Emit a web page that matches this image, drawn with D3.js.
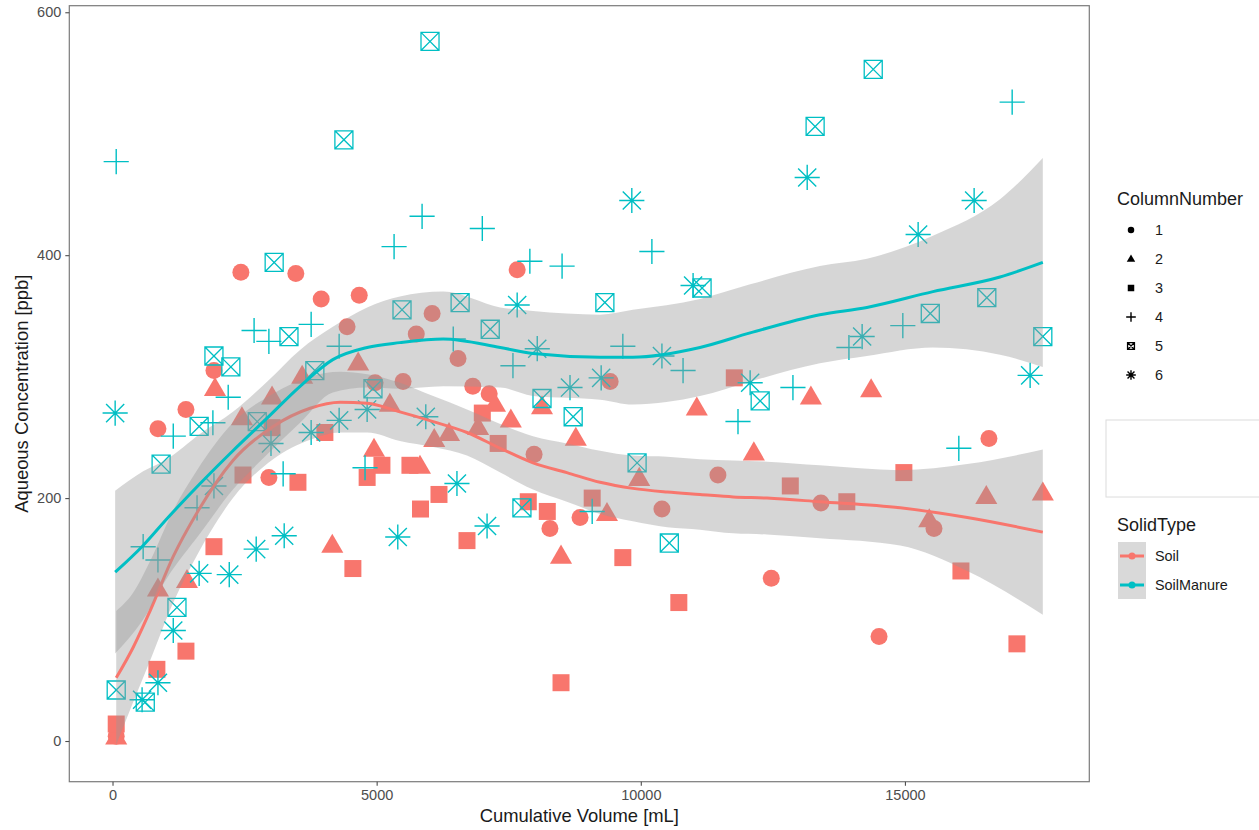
<!DOCTYPE html>
<html>
<head>
<meta charset="utf-8">
<script src="https://cdn.jsdelivr.net/npm/d3@7"></script>
<style>
  body { margin: 0; background: #fff; }
  text { font-family: "Liberation Sans", Arial, sans-serif; }
</style>
</head>
<body>
<svg id="chart" width="1259" height="830"></svg>
<script>
// Soil (ColumnNumber 1-3), [volume mL, ppb]
const soilCol1 = [[70,4],[860,257],[1390,273],[1920,305],[2430,386],[3470,385],[2960,217],[3950,364],[4440,341],[4670,367],[4970,295],[5500,296],[5750,335],[6050,352],[6540,315],[6820,292],[7130,286],[7660,388],[7980,236],[8280,175],[8850,184],[9420,296],[10400,191],[11460,219],[12470,134],[13410,196],[14510,86],[15550,175],[16590,249]];
const soilCol2 = [[70,3],[860,125],[1410,132],[1940,290],[2450,266],[3020,283],[3590,300],[4160,161],[4650,311],[4950,240],[5250,277],[5820,226],[6090,248],[6370,253],[6920,258],[7240,277],[7540,264],[8130,275],[8490,152],[8770,249],[9360,187],[9970,216],[11060,274],[12140,237],[13220,283],[14360,289],[15460,182],[16540,201],[17610,204]];
const soilCol3 = [[70,14],[840,59],[1390,74],[1920,160],[2470,219],[3020,258],[3510,213],[4020,254],[4550,142],[4820,217],[5100,227],[5630,227],[5830,191],[6180,203],[6710,165],[7000,270],[7300,245],[7870,197],[8230,189],[8490,48],[9080,200],[9660,151],[10720,114],[11770,299],[12830,210],[13900,197],[14980,221],[16060,140],[17120,80]];
// SoilManure (ColumnNumber 4-6)
const manureCol4 = [[70,477],[580,160],[860,149],[1150,251],[1600,192],[1900,262],[2190,283],[2680,338],[2960,329],[3230,220],[3760,343],[4290,325],[4780,225],[5330,407],[5860,432],[6450,331],[7000,422],[7580,309],[7900,395],[8510,391],[9080,189],[9660,325],[10210,403],[10800,305],[11840,263],[12880,291],[13940,324],[14960,342],[16020,241],[17030,526]];
const manureCol5 = [[70,42],[620,32],[920,228],[1220,110],[1640,259],[1920,317],[2240,308],[2740,263],[3060,394],[3340,333],[3830,305],[4380,495],[4930,290],[5480,355],[6010,576],[6580,361],[7150,339],[7750,192],[8130,282],[8720,267],[9320,361],[9930,229],[10540,163],[11160,373],[12260,280],[13300,506],[14400,553],[15480,352],[16550,365],[17610,333]];
const manureCol6 = [[50,270],[560,34],[860,48],[1150,91],[1640,138],[1920,210],[2210,137],[2720,158],[3000,245],[3250,169],[3760,254],[4290,264],[4820,273],[5400,168],[5930,267],[6520,212],[7090,177],[7660,359],[8040,323],[8660,291],[9250,299],[9830,445],[10400,317],[10990,375],[12070,295],[13150,464],[14190,333],[15250,417],[16310,445],[17370,301]];

// loess smooth
const soilSmoothX  = [70,390,710,1150,1600,2280,3040,3740,4310,4820,5440,6070,6710,7340,7960,8600,9230,9850,10500,11120,11750,12390,13390,14910,16180,17610];
const soilSmoothY  = [52,77,107,152,188,231,259,274,279,278,271,263,254,241,229,221,213,208,205,203,201,200,197,192,184,172];
const soilSmoothLo = [-3,32,66,114,153,200,232,248,254,254,247,242,235,221,207,197,187,181,176,174,171,170,167,161,140,104];
const soilSmoothHi = [107,122,148,190,223,262,286,300,304,302,295,284,273,261,251,245,239,235,234,232,231,230,227,223,228,240];
const manureSmoothX  = [50,580,1030,1660,2280,2930,3550,4170,4820,5440,6260,7340,7960,9230,9850,11120,12070,13390,14280,15530,16800,17610];
const manureSmoothY  = [139,161,183,212,239,266,292,314,324,328,331,324,319,316,316,324,336,351,357,370,382,394];
const manureSmoothLo = [72,100,134,171,207,236,262,287,291,290,292,291,284,281,277,284,296,311,317,324,318,308];
const manureSmoothHi = [206,222,232,253,271,296,322,341,357,366,370,357,354,351,355,364,376,391,397,416,446,480];

const xTicks = [0, 5000, 10000, 15000];
const yTicks = [0, 200, 400, 600];
const columnLabels = ["1", "2", "3", "4", "5", "6"];
const solidTypes = ["Soil", "SoilManure"];
const colors = { Soil: "#F8766D", SoilManure: "#00BFC4" };

const svg = d3.select("#chart");
const margin = { top: 5.7, right: 169.7, bottom: 48.3, left: 69.3 };
const W = 1259, H = 830;

const x = d3.scaleLinear().domain([-818, 18490]).range([margin.left, W - margin.right]);
const y = d3.scaleLinear().domain([-33.5, 605.4]).range([H - margin.bottom, margin.top]);

// shape path builders (centred at 0,0)
function shapePath(shape, s) {
  const p = d3.path();
  if (shape === 1) { p.arc(0, 0, s * 0.5, 0, 2 * Math.PI); }
  else if (shape === 2) {
    const w = s * 1.3, h = s * 1.12;
    p.moveTo(0, -h * 0.62); p.lineTo(w / 2, h * 0.38); p.lineTo(-w / 2, h * 0.38); p.closePath();
  }
  else if (shape === 3) { p.rect(-s / 2, -s / 2, s, s); }
  else if (shape === 4) {
    const a = s * 0.74;
    p.moveTo(-a, 0); p.lineTo(a, 0); p.moveTo(0, -a); p.lineTo(0, a);
  }
  else if (shape === 5) {
    const a = s * 0.53;
    p.rect(-a, -a, 2 * a, 2 * a);
    p.moveTo(-a, -a); p.lineTo(a, a); p.moveTo(a, -a); p.lineTo(-a, a);
  }
  else {
    const a = s * 0.74, b = a * 0.72;
    p.moveTo(-a, 0); p.lineTo(a, 0); p.moveTo(0, -a); p.lineTo(0, a);
    p.moveTo(-b, -b); p.lineTo(b, b); p.moveTo(b, -b); p.lineTo(-b, b);
  }
  return p.toString();
}

function drawShape(g, shape, color, s) {
  const filled = shape <= 3;
  g.append("path")
    .attr("d", shapePath(shape, s))
    .attr("fill", filled ? color : "none")
    .attr("stroke", filled ? "none" : color)
    .attr("stroke-width", filled ? 0 : (shape === 5 ? 1.3 : 1.4));
}

// panel
svg.append("rect")
  .attr("x", margin.left).attr("y", margin.top)
  .attr("width", W - margin.left - margin.right)
  .attr("height", H - margin.top - margin.bottom)
  .attr("fill", "#fff");

const series = [
  { type: "Soil", shape: 1, data: soilCol1 },
  { type: "Soil", shape: 2, data: soilCol2 },
  { type: "Soil", shape: 3, data: soilCol3 },
  { type: "SoilManure", shape: 4, data: manureCol4 },
  { type: "SoilManure", shape: 5, data: manureCol5 },
  { type: "SoilManure", shape: 6, data: manureCol6 }
];

const pts = svg.append("g");
series.forEach(s => {
  s.data.forEach(d => {
    const g = pts.append("g").attr("transform", `translate(${x(d[0])},${y(d[1])})`);
    drawShape(g, s.shape, colors[s.type], 17);
  });
});

// smooths: ribbon then line, per group
const smooths = [
  { type: "Soil", xs: soilSmoothX, fit: soilSmoothY, lo: soilSmoothLo, hi: soilSmoothHi },
  { type: "SoilManure", xs: manureSmoothX, fit: manureSmoothY, lo: manureSmoothLo, hi: manureSmoothHi }
];
const area = d3.area().curve(d3.curveMonotoneX)
  .x(d => x(d.x)).y0(d => y(d.lo)).y1(d => y(d.hi));
const line = d3.line().curve(d3.curveMonotoneX)
  .x(d => x(d.x)).y(d => y(d.fit));

smooths.forEach(sm => {
  const rows = sm.xs.map((v, i) => ({ x: v, fit: sm.fit[i], lo: sm.lo[i], hi: sm.hi[i] }));
  svg.append("path").datum(rows).attr("d", area)
    .attr("fill", "#999999").attr("fill-opacity", 0.4);
  svg.append("path").datum(rows).attr("d", line)
    .attr("fill", "none").attr("stroke", colors[sm.type]).attr("stroke-width", 3);
});

// panel border
svg.append("rect")
  .attr("x", margin.left).attr("y", margin.top)
  .attr("width", W - margin.left - margin.right)
  .attr("height", H - margin.top - margin.bottom)
  .attr("fill", "none").attr("stroke", "#7a7a7a").attr("stroke-width", 1.2);

// axes
const xAxis = svg.append("g")
  .attr("transform", `translate(0,${H - margin.bottom})`)
  .call(d3.axisBottom(x).tickValues(xTicks).tickSize(4).tickPadding(4).tickFormat(d3.format("d")));
const yAxis = svg.append("g")
  .attr("transform", `translate(${margin.left},0)`)
  .call(d3.axisLeft(y).tickValues(yTicks).tickSize(4).tickPadding(4).tickFormat(d3.format("d")));
[xAxis, yAxis].forEach(a => {
  a.select(".domain").remove();
  a.selectAll(".tick line").attr("stroke", "#4d4d4d").attr("stroke-width", 1.1);
  a.selectAll(".tick text").attr("fill", "#4d4d4d").style("font-size", "14.5px")
    .style("font-family", "'Liberation Sans', Arial, sans-serif");
});

svg.append("text")
  .attr("x", (margin.left + W - margin.right) / 2).attr("y", 822)
  .attr("text-anchor", "middle").style("font-size", "18.4px").attr("fill", "#1a1a1a")
  .text("Cumulative Volume [mL]");
svg.append("text")
  .attr("transform", `translate(28,${(margin.top + H - margin.bottom) / 2}) rotate(-90)`)
  .attr("text-anchor", "middle").style("font-size", "18.4px").attr("fill", "#1a1a1a")
  .text("Aqueous Concentration [ppb]");

// legend: ColumnNumber
const leg1 = svg.append("g");
leg1.append("text").attr("x", 1117).attr("y", 205).style("font-size", "18px").attr("fill", "#1a1a1a")
  .text("ColumnNumber");
columnLabels.forEach((lab, i) => {
  const yy = 230 + i * 29;
  const g = leg1.append("g").attr("transform", `translate(1131,${yy})`);
  drawShape(g, i + 1, "#000", 6.5);
  leg1.append("text").attr("x", 1155).attr("y", yy + 5).style("font-size", "14.4px")
    .attr("fill", "#1a1a1a").text(lab);
});

// empty legend box
svg.append("rect").attr("x", 1106).attr("y", 420).attr("width", 160).attr("height", 77)
  .attr("fill", "#fff").attr("stroke", "#dcdcdc").attr("stroke-width", 1);

// legend: SolidType
const leg2 = svg.append("g");
leg2.append("text").attr("x", 1117).attr("y", 531).style("font-size", "18px").attr("fill", "#1a1a1a")
  .text("SolidType");
leg2.append("rect").attr("x", 1118).attr("y", 542).attr("width", 28).attr("height", 57)
  .attr("fill", "#d9d9d9");
solidTypes.forEach((t, i) => {
  const yy = 556 + i * 29;
  leg2.append("line").attr("x1", 1120).attr("x2", 1144).attr("y1", yy).attr("y2", yy)
    .attr("stroke", colors[t]).attr("stroke-width", 3);
  leg2.append("circle").attr("cx", 1132).attr("cy", yy).attr("r", 3.5).attr("fill", colors[t]);
  leg2.append("text").attr("x", 1155).attr("y", yy + 5).style("font-size", "14.4px")
    .attr("fill", "#1a1a1a").text(t);
});
</script>
</body>
</html>
